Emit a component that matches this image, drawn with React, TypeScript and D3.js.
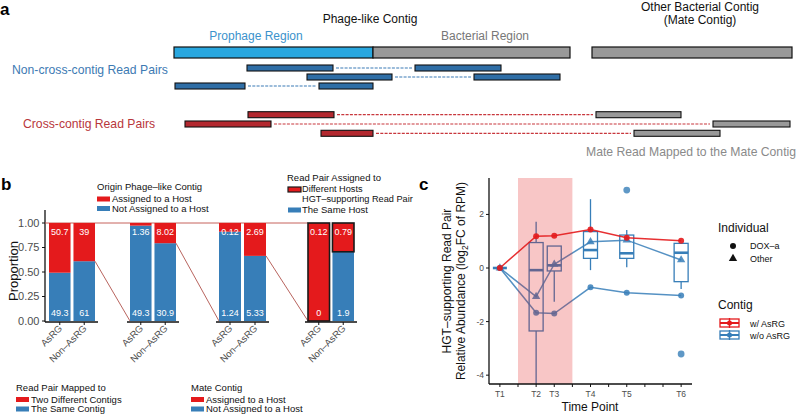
import React from 'react';
import * as d3 from 'd3';

const FONT = "'Liberation Sans', Arial, Helvetica, sans-serif";
const RED = '#E41A1C';
const BLUE = '#377EB8';

// ---------- Panel a data ----------
const contigRegions = [
  { label: 'Prophage Region', start: 0, end: 199, fill: '#29a7df' },
  { label: 'Bacterial Region', start: 199, end: 396, fill: '#999999' },
  { label: 'Mate Contig', start: 418, end: 618, fill: '#999999' },
];
const nonCrossPairs = [
  { lane: 0, r1: [73, 159], r2: [241, 327] },
  { lane: 1, r1: [133, 218], r2: [300, 386] },
  { lane: 2, r1: [1, 71], r2: [145, 199] },
];
const crossPairs = [
  { lane: 0, r1: [74, 160], r2: [422, 507] },
  { lane: 1, r1: [11, 97], r2: [539, 616] },
  { lane: 2, r1: [147, 199], r2: [460, 546] },
];

// ---------- Panel b data ----------
const bCategories = ['AsRG', 'Non–AsRG'];
const bBlueValues = [
  [49.3, 61],
  [49.3, 30.9],
  [1.24, 5.33],
  [0, 1.9],
];
const bRedValues = [
  [50.7, 39],
  [1.36, 8.02],
  [0.12, 2.69],
  [0.12, 0.79],
];
const bYTicks = [0, 0.25, 0.5, 0.75, 1];

// ---------- Panel c data ----------
const timeLabels = ['T1', 'T2', 'T3', 'T4', 'T5', 'T6'];
const timeDays = [0, 2, 3, 5, 7, 10];
const dayTicks = [0, 1, 2, 3, 4, 5, 6, 7, 8, 9, 10];
const cYTicks = [-4, -2, 0, 2];
const withAsRG_DOXa = [0, 1.19, 1.2, 1.44, 1.13, 1.02];
const withoutAsRG_DOXa = [0, -1.67, -1.7, -0.72, -0.92, -1.03];
const withoutAsRG_Other = [0, -1.07, 0.14, 0.98, 1.04, 0.3];
const boxLow = [0, -4.6, -1.26, -0.08, 0.03, -0.78];
const boxQ1 = [0, -2.35, -0.11, 0.36, 0.36, -0.51];
const boxMedian = [0, -0.08, 0.1, 0.67, 0.55, 0.57];
const boxQ3 = [0, 0.95, 0.82, 1.36, 1.23, 0.92];
const boxHigh = [0, 1.73, 0.82, 2.57, 1.42, 0.92];
const outlierTime = ['T5', 'T6'];
const outlierValue = [2.91, -3.21];
const stressDays = [1, 4];

export default function App() {
  // ---- Panel a scales ----
  const xA = d3.scaleLinear().domain([0, 618]).range([174, 792]);
  const laneNon = d3.scaleLinear().domain([0, 2]).range([68, 86]);
  const laneCross = d3.scaleLinear().domain([0, 2]).range([114.7, 133.3]);
  const readH = 6;

  // ---- Panel b scales ----
  const yB = d3.scaleLinear().domain([0, 1]).range([321, 223]);
  const bGroupExtents = [
    [49, 95],
    [130, 176],
    [219, 266],
    [308, 354],
  ];
  const bands = bGroupExtents.map((e) =>
    d3.scaleBand().domain(bCategories).range(e as [number, number]).paddingInner(0.12)
  );
  const blueShare = bBlueValues.map((g, i) => g.map((b, j) => b / (b + bRedValues[i][j])));

  // ---- Panel c scales ----
  const xC = d3.scaleLinear().domain([-0.6, 10.6]).range([489, 692]);
  const yC = d3.scaleLinear().domain([-4.33, 3.36]).range([384, 178]);
  const line = d3
    .line<number>()
    .x((_, i) => xC(timeDays[i]))
    .y((d) => yC(d));
  const tri = d3.symbol().type(d3.symbolTriangle).size(30)();
  const boxHalf = 7;

  return (
    <svg
      width={800}
      height={414}
      style={{ position: 'absolute', left: 0, top: 0, background: '#fff' }}
      fontFamily={FONT}
    >
      <defs>
        <clipPath id="clipC">
          <rect x={489} y={178} width={203} height={206} />
        </clipPath>
      </defs>

      {/* ================= Panel a ================= */}
      <text x={0} y={15} fontSize={17} fontWeight="bold">a</text>
      <text x={370} y={23} fontSize={12} textAnchor="middle" fill="#111">Phage-like Contig</text>
      <text x={700} y={10.5} fontSize={12} textAnchor="middle" fill="#111">Other Bacterial Contig</text>
      <text x={700} y={23.5} fontSize={12} textAnchor="middle" fill="#111">(Mate Contig)</text>
      <text x={256} y={39.5} fontSize={12} textAnchor="middle" fill="#3b92cc">
        {contigRegions[0].label}
      </text>
      <text x={485} y={39.5} fontSize={12} textAnchor="middle" fill="#777777">
        {contigRegions[1].label}
      </text>
      {contigRegions.map((r) => (
        <rect
          key={r.label}
          x={xA(r.start)}
          y={47}
          width={xA(r.end) - xA(r.start)}
          height={11}
          fill={r.fill}
          stroke="#111"
          strokeWidth={1.2}
        />
      ))}
      <text x={12} y={74} fontSize={12.2} fill="#3d7ab3">Non-cross-contig Read Pairs</text>
      <text x={23} y={128} fontSize={12.2} fill="#b8363b">Cross-contig Read Pairs</text>
      <text x={586} y={156} fontSize={12.2} fill="#8a8a8a">Mate Read Mapped to the Mate Contig</text>

      {nonCrossPairs.map((p, i) => {
        const cy = laneNon(p.lane);
        return (
          <g key={'n' + i}>
            <line x1={xA(p.r1[1]) + 3} x2={xA(p.r2[0]) - 3} y1={cy} y2={cy} stroke="#3b7ab5" strokeWidth={1.2} strokeDasharray="3,1.3" />
            {[p.r1, p.r2].map((r, k) => (
              <rect key={k} x={xA(r[0])} y={cy - readH / 2} width={xA(r[1]) - xA(r[0])} height={readH} fill="#2f6ea6" stroke="#111" strokeWidth={1.1} />
            ))}
          </g>
        );
      })}
      {crossPairs.map((p, i) => {
        const cy = laneCross(p.lane);
        return (
          <g key={'c' + i}>
            <line x1={xA(p.r1[1]) + 3} x2={xA(p.r2[0]) - 3} y1={cy} y2={cy} stroke="#c8373d" strokeWidth={1.2} strokeDasharray="3,1.3" />
            <rect x={xA(p.r1[0])} y={cy - readH / 2} width={xA(p.r1[1]) - xA(p.r1[0])} height={readH} fill="#b3282f" stroke="#111" strokeWidth={1.1} />
            <rect x={xA(p.r2[0])} y={cy - readH / 2} width={xA(p.r2[1]) - xA(p.r2[0])} height={readH} fill="#999999" stroke="#111" strokeWidth={1.1} />
          </g>
        );
      })}

      {/* ================= Panel b ================= */}
      <text x={1} y={190} fontSize={17} fontWeight="bold">b</text>
      <text transform="translate(18,271) rotate(-90)" fontSize={13} textAnchor="middle" fill="#111">Proportion</text>
      <line x1={45} x2={45} y1={210} y2={322} stroke="#111" strokeWidth={1.3} />
      {bYTicks.map((t) => (
        <g key={t}>
          <line x1={42} x2={45} y1={yB(t)} y2={yB(t)} stroke="#111" strokeWidth={1} />
          <text x={39.5} y={yB(t)} dy="0.35em" fontSize={11} textAnchor="end" fill="#4d4d4d">
            {t.toFixed(2)}
          </text>
        </g>
      ))}
      {/* connectors */}
      <line x1={45} x2={bGroupExtents[3][0]} y1={yB(1)} y2={yB(1)} stroke="#c0504a" strokeWidth={0.9} />
      {[0, 1, 2].map((g) => (
        <line
          key={'con' + g}
          x1={bGroupExtents[g][1]}
          y1={yB(blueShare[g][1])}
          x2={bGroupExtents[g + 1][0]}
          y2={yB(0)}
          stroke="#b0524c"
          strokeWidth={0.9}
        />
      ))}
      {bands.map((band, g) => (
        <g key={'grp' + g}>
          <line
            x1={g === 0 ? 45 : bGroupExtents[g][0] - 3}
            x2={bGroupExtents[g][1] + 3}
            y1={322}
            y2={322}
            stroke="#111"
            strokeWidth={1.5}
          />
          {bCategories.map((c, j) => {
            const x0 = band(c) as number;
            const w = band.bandwidth();
            const share = blueShare[g][j];
            const isHost = g === 3;
            return (
              <g key={c}>
                <rect x={x0} y={yB(share)} width={w} height={yB(0) - yB(share)} fill={BLUE} />
                <rect
                  x={x0}
                  y={yB(1)}
                  width={w}
                  height={yB(share) - yB(1)}
                  fill={RED}
                  stroke={isHost ? '#1a1a1a' : 'none'}
                  strokeWidth={isHost ? 1.6 : 0}
                />
                <text x={x0 + w / 2} y={234.5} fontSize={9} textAnchor="middle" fill="#fff">
                  {bRedValues[g][j]}
                </text>
                <text x={x0 + w / 2} y={316} fontSize={9} textAnchor="middle" fill="#fff">
                  {bBlueValues[g][j]}
                </text>
                <line x1={x0 + w / 2} x2={x0 + w / 2} y1={322} y2={325} stroke="#111" strokeWidth={1} />
                <text
                  transform={`translate(${x0 + w / 2 + 3},${329}) rotate(-45)`}
                  fontSize={9.5}
                  textAnchor="end"
                  fill="#4d4d4d"
                >
                  {c}
                </text>
              </g>
            );
          })}
        </g>
      ))}
      {/* legends b */}
      <g fontSize={9.5} fill="#111">
        <text x={97} y={190}>Origin Phage–like Contig</text>
        <rect x={97} y={196.5} width={13} height={5} fill={RED} />
        <text x={112} y={202}>Assigned to a Host</text>
        <rect x={97} y={206} width={13} height={5} fill={BLUE} />
        <text x={112} y={211.5}>Not Assigned to a Host</text>

        <text x={287} y={181}>Read Pair Assigned to</text>
        <rect x={288} y={187} width={13} height={5} fill={RED} stroke="#1a1a1a" strokeWidth={1.2} />
        <text x={302} y={191.5} fontSize={9.2}>Different Hosts</text>
        <text x={302} y={201.5} fontSize={9.2}>HGT–supporting Read Pair</text>
        <rect x={288} y={207.5} width={13} height={5} fill={BLUE} />
        <text x={302} y={213}>The Same Host</text>

        <text x={16} y={391}>Read Pair Mapped to</text>
        <rect x={16} y={397} width={13} height={5} fill={RED} />
        <text x={31} y={402.5}>Two Different Contigs</text>
        <rect x={16} y={406.5} width={13} height={5} fill={BLUE} />
        <text x={31} y={412}>The Same Contig</text>

        <text x={191} y={391}>Mate Contig</text>
        <rect x={191} y={397} width={13} height={5} fill={RED} />
        <text x={206} y={402.5}>Assigned to a Host</text>
        <rect x={191} y={406.5} width={13} height={5} fill={BLUE} />
        <text x={206} y={412}>Not Assigned to a Host</text>
      </g>

      {/* ================= Panel c ================= */}
      <text x={419} y={190} fontSize={17} fontWeight="bold">c</text>
      <text transform="translate(451,281) rotate(-90)" fontSize={12} textAnchor="middle" fill="#111">
        HGT–supporting Read Pair
      </text>
      <text transform="translate(465,281) rotate(-90)" fontSize={12} textAnchor="middle" fill="#111">
        Relative Abundance (log
        <tspan fontSize={8.5} dy={3}>2</tspan>
        <tspan dy={-3}>FC of RPM)</tspan>
      </text>
      <text x={590} y={411} fontSize={12} textAnchor="middle" fill="#111">Time Point</text>

      {/* boxplots */}
      <g clipPath="url(#clipC)">
        {timeDays.map((d, i) => {
          const cx = xC(d);
          return (
            <g key={'box' + i} stroke={BLUE} fill="none">
              <line x1={cx} x2={cx} y1={yC(boxHigh[i])} y2={yC(boxQ3[i])} strokeWidth={1.3} />
              <line x1={cx} x2={cx} y1={yC(boxQ1[i])} y2={yC(boxLow[i])} strokeWidth={1.3} />
              <rect x={cx - boxHalf} y={yC(boxQ3[i])} width={boxHalf * 2} height={Math.max(0, yC(boxQ1[i]) - yC(boxQ3[i]))} strokeWidth={1.3} />
              <line x1={cx - boxHalf} x2={cx + boxHalf} y1={yC(boxMedian[i])} y2={yC(boxMedian[i])} strokeWidth={2.6} />
            </g>
          );
        })}
        {outlierTime.map((t, i) => (
          <circle key={'o' + i} cx={xC(timeDays[timeLabels.indexOf(t)])} cy={yC(outlierValue[i])} r={3.4} fill={BLUE} fillOpacity={0.8} />
        ))}
        {/* lines */}
        <path d={line(withoutAsRG_DOXa) || ''} fill="none" stroke={BLUE} strokeWidth={1.5} strokeOpacity={0.85} />
        <path d={line(withoutAsRG_Other) || ''} fill="none" stroke={BLUE} strokeWidth={1.5} strokeOpacity={0.85} />
        <path d={line(withAsRG_DOXa) || ''} fill="none" stroke={RED} strokeWidth={1.5} strokeOpacity={0.9} />
        {withoutAsRG_DOXa.map((v, i) => (
          <circle key={'bd' + i} cx={xC(timeDays[i])} cy={yC(v)} r={3} fill={BLUE} fillOpacity={0.85} />
        ))}
        {withoutAsRG_Other.map((v, i) => (
          <path key={'bo' + i} d={tri || ''} transform={`translate(${xC(timeDays[i])},${yC(v)})`} fill={BLUE} fillOpacity={0.85} />
        ))}
        {withAsRG_DOXa.map((v, i) => (
          <circle key={'rd' + i} cx={xC(timeDays[i])} cy={yC(v)} r={3} fill={RED} fillOpacity={0.9} />
        ))}
        {/* shaded period on top */}
        <rect
          x={xC(stressDays[0])}
          y={178}
          width={xC(stressDays[1]) - xC(stressDays[0])}
          height={206}
          fill={RED}
          fillOpacity={0.25}
        />
      </g>

      {/* axes c */}
      <line x1={489} x2={489} y1={178} y2={384} stroke="#111" strokeWidth={1.3} />
      <line x1={489} x2={692} y1={384} y2={384} stroke="#111" strokeWidth={1.3} />
      {cYTicks.map((t) => (
        <g key={'cy' + t}>
          <line x1={486} x2={489} y1={yC(t)} y2={yC(t)} stroke="#111" />
          <text x={484} y={yC(t)} dy="0.35em" fontSize={8.5} textAnchor="end" fill="#4d4d4d">
            {t}
          </text>
        </g>
      ))}
      {dayTicks.map((d) => (
        <line key={'cx' + d} x1={xC(d)} x2={xC(d)} y1={384} y2={387} stroke="#111" />
      ))}
      {timeDays.map((d, i) => (
        <text key={'tl' + i} x={xC(d)} y={397} fontSize={8.5} textAnchor="middle" fill="#4d4d4d">
          {timeLabels[i]}
        </text>
      ))}

      {/* legend c */}
      <text x={718} y={232} fontSize={12} fill="#111">Individual</text>
      <circle cx={733} cy={246} r={3} fill="#111" />
      <text x={750} y={249} fontSize={9} fill="#111">DOX–a</text>
      <path d={tri || ''} transform="translate(733,258.5)" fill="#111" />
      <text x={750} y={261.5} fontSize={9} fill="#111">Other</text>

      <text x={718} y={309} fontSize={12} fill="#111">Contig</text>
      {[
        { c: RED, label: 'w/ AsRG', cy: 323 },
        { c: BLUE, label: 'w/o AsRG', cy: 335 },
      ].map((k) => (
        <g key={k.label}>
          <rect x={720} y={k.cy - 4} width={19} height={8} fill="none" stroke={k.c} strokeWidth={1.3} />
          <line x1={729.5} x2={729.5} y1={k.cy - 5} y2={k.cy + 5} stroke={k.c} strokeWidth={1.3} />
          <line x1={720} x2={739} y1={k.cy} y2={k.cy} stroke={k.c} strokeWidth={2} />
          <circle cx={729.5} cy={k.cy} r={2.5} fill={k.c} />
          <text x={750} y={k.cy + 3.5} fontSize={9} fill="#111">{k.label}</text>
        </g>
      ))}
    </svg>
  );
}
